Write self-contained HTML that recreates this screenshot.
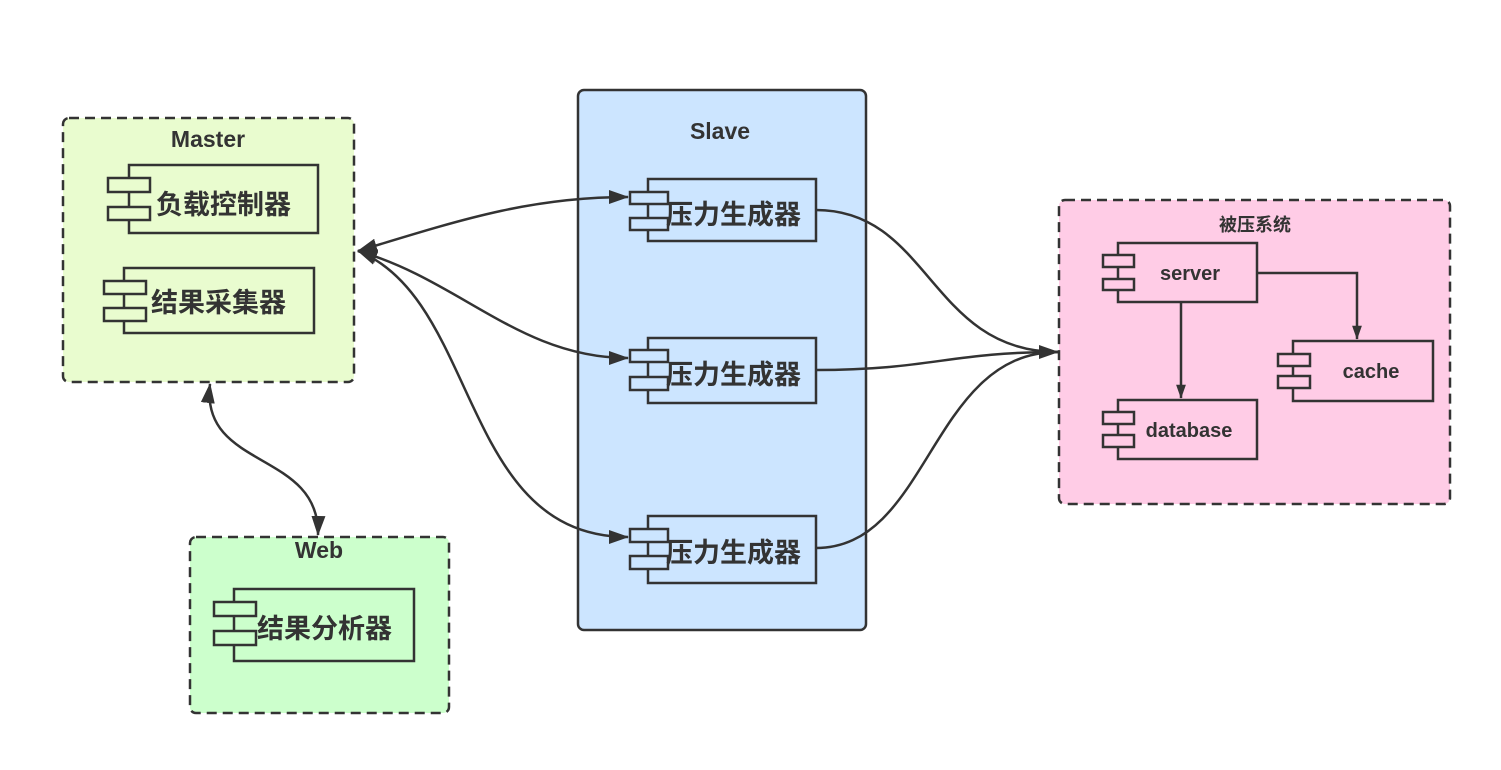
<!DOCTYPE html>
<html><head><meta charset="utf-8"><style>
html,body{margin:0;padding:0;background:#fff;}
svg text{font-family:"Liberation Sans","Noto Sans CJK SC",sans-serif;font-weight:bold;fill:#333;}
</style></head><body>
<svg width="1501" height="765" viewBox="0 0 1501 765" xmlns="http://www.w3.org/2000/svg">
<defs>
<marker id="a" markerWidth="14" markerHeight="20" refX="19" refY="7" orient="auto-start-reverse" markerUnits="userSpaceOnUse" viewBox="0 0 20 14">
<path d="M0,0 L20,7 L0,14 Z" fill="#333"/></marker>
<marker id="b" markerWidth="20" markerHeight="14" refX="19" refY="7" orient="auto-start-reverse" markerUnits="userSpaceOnUse" viewBox="0 0 20 14">
<path d="M0,0 L20,7 L0,14 Z" fill="#333"/></marker>
</defs>
<g stroke="#333" stroke-width="2.5">
<rect x="63" y="118" width="291" height="264" rx="6" fill="#e9fccf" stroke-dasharray="10,6"/>
<rect x="190" y="537" width="259" height="176" rx="6" fill="#ccffcc" stroke-dasharray="10,6"/>
<rect x="578" y="90" width="288" height="540" rx="6" fill="#cce5ff"/>
<rect x="1059" y="200" width="391" height="304" rx="6" fill="#ffcce6" stroke-dasharray="10,6"/>
</g>
<g stroke="#333" stroke-width="2.5" fill="none">
<rect x="129" y="165" width="189" height="68"/>
<rect x="108" y="178" width="42" height="14" fill="#e9fccf"/>
<rect x="108" y="207" width="42" height="13" fill="#e9fccf"/>
<rect x="124" y="268" width="190" height="65"/>
<rect x="104" y="281" width="42" height="13" fill="#e9fccf"/>
<rect x="104" y="308" width="42" height="13" fill="#e9fccf"/>
<rect x="234" y="589" width="180" height="72"/>
<rect x="214" y="602" width="42" height="14" fill="#ccffcc"/>
<rect x="214" y="631" width="42" height="14" fill="#ccffcc"/>
<rect x="648" y="179" width="168" height="62"/>
<rect x="630" y="192" width="38" height="12" fill="#cce5ff"/>
<rect x="630" y="218" width="38" height="12" fill="#cce5ff"/>
<rect x="648" y="338" width="168" height="65"/>
<rect x="630" y="350" width="38" height="12" fill="#cce5ff"/>
<rect x="630" y="377" width="38" height="13" fill="#cce5ff"/>
<rect x="648" y="516" width="168" height="67"/>
<rect x="630" y="529" width="38" height="13" fill="#cce5ff"/>
<rect x="630" y="556" width="38" height="13" fill="#cce5ff"/>
<rect x="1118" y="243" width="139" height="59"/>
<rect x="1103" y="255" width="31" height="12" fill="#ffcce6"/>
<rect x="1103" y="279" width="31" height="11" fill="#ffcce6"/>
<rect x="1293" y="341" width="140" height="60"/>
<rect x="1278" y="354" width="32" height="12" fill="#ffcce6"/>
<rect x="1278" y="376" width="32" height="12" fill="#ffcce6"/>
<rect x="1118" y="400" width="139" height="59"/>
<rect x="1103" y="412" width="31" height="12" fill="#ffcce6"/>
<rect x="1103" y="435" width="31" height="12" fill="#ffcce6"/>
<path d="M1181,302 L1181,398" marker-end="url(#a)"/>
<path d="M1257,273 L1357,273 L1357,339" marker-end="url(#a)"/>
<path d="M358,251 C460,220 530,197 628,197" marker-start="url(#b)" marker-end="url(#b)"/>
<path d="M358,251 C460,280 520,358 628,358" marker-start="url(#b)" marker-end="url(#b)"/>
<path d="M358,251 C480,300 460,537 628,537" marker-start="url(#b)" marker-end="url(#b)"/>
<path d="M816,210 C930,210 930,352 1058,352" marker-end="url(#b)"/>
<path d="M816,370 C930,370 950,352 1058,352"/>
<path d="M816,548 C930,548 930,352 1058,352"/>
<path d="M210,384 C200,470 320,450 318,535" marker-start="url(#b)" marker-end="url(#b)"/>
</g>
<text x="208" y="147" font-size="23" text-anchor="middle">Master</text>
<text x="156" y="214" font-size="27">负载控制器</text>
<text x="151" y="312" font-size="27">结果采集器</text>
<text x="319" y="558" font-size="23" text-anchor="middle">Web</text>
<text x="257" y="638" font-size="27">结果分析器</text>
<text x="720" y="139" font-size="23" text-anchor="middle">Slave</text>
<text x="666" y="224" font-size="27">压力生成器</text>
<text x="666" y="384" font-size="27">压力生成器</text>
<text x="666" y="562" font-size="27">压力生成器</text>
<text x="1255" y="231" font-size="18" text-anchor="middle">被压系统</text>
<text x="1190" y="280" font-size="20" text-anchor="middle">server</text>
<text x="1371" y="378" font-size="20" text-anchor="middle">cache</text>
<text x="1189" y="437" font-size="20" text-anchor="middle">database</text>
</svg>
</body></html>
